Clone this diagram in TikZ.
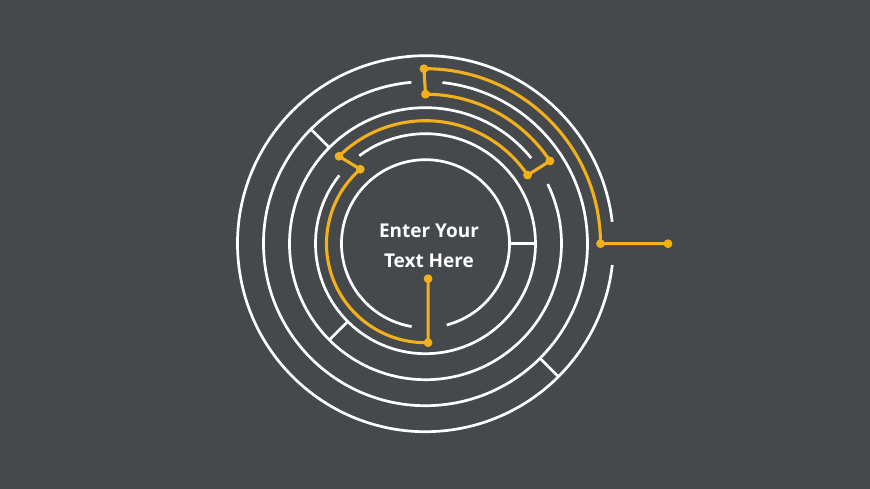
\documentclass[tikz,border=0pt]{standalone}
\usepackage{fontspec}
\setmainfont{Open Sans}
\definecolor{bgc}{RGB}{70,73,76}
\definecolor{gold}{RGB}{242,176,28}
\begin{document}
\begin{tikzpicture}[x=1pt,y=1pt,
  wall/.style={draw=white,line width=2.7pt},
  trail/.style={draw=gold,line width=3.1pt,line join=round},
  dot/.style={circle,fill=gold,inner sep=0pt,minimum size=8.8pt},
  lbl/.style={text=white,font=\bfseries\fontsize{19}{22}\selectfont,anchor=base,inner sep=0pt}]
\fill[bgc] (-425.5,-245.3) rectangle (444.5,243.7);
\useasboundingbox (-425.5,-245.3) rectangle (444.5,243.7);
% rings
\draw[wall] (6.7:188) arc[start angle=6.7,end angle=353.5,radius=188pt];
\draw[wall] (95:162) arc[start angle=95,end angle=444,radius=162pt];
\draw[wall] (39:136) arc[start angle=39,end angle=386,radius=136pt];
\draw[wall] (141.6:110) arc[start angle=141.6,end angle=487,radius=110pt];
\draw[wall] (-75.4:84) arc[start angle=-75.4,end angle=260.5,radius=84pt];
% walls
\draw[wall] (0:84) -- (0:110);
\draw[wall] (135:136) -- (135:162);
\draw[wall] (225:110) -- (225:136);
\draw[wall] (-45:162) -- (-45:188);
% trail points
\coordinate (d1) at (2.6,-35);
\coordinate (d2) at (271.5:99);
\coordinate (d3) at (131.2:99);
\coordinate (d4) at (134.7:123);
\coordinate (d5) at (33.9:123);
\coordinate (d6) at (33.6:149.5);
\coordinate (d7) at (90:149.5);
\coordinate (d8) at (90.5:175);
\coordinate (d9) at (0:175);
\coordinate (d10) at (242.5,0);
\draw[trail] (d10) -- (d9) arc[start angle=0,end angle=90.5,radius=175pt]
  -- (d7) arc[start angle=90,end angle=33.6,radius=149.5pt]
  -- (d5) arc[start angle=33.9,end angle=134.7,radius=123pt]
  -- (d3) arc[start angle=131.2,end angle=271.5,radius=99pt]
  -- (d1);
\foreach \p in {d1,d2,d3,d4,d5,d6,d7,d8,d9,d10}
  \node[dot] (n\p) at (\p) {};
% text
\node[lbl] (t1) at (3.5,6) {Enter Your};
\node[lbl] (t2) at (3.5,-23.6) {Text Here};
\end{tikzpicture}
\end{document}
